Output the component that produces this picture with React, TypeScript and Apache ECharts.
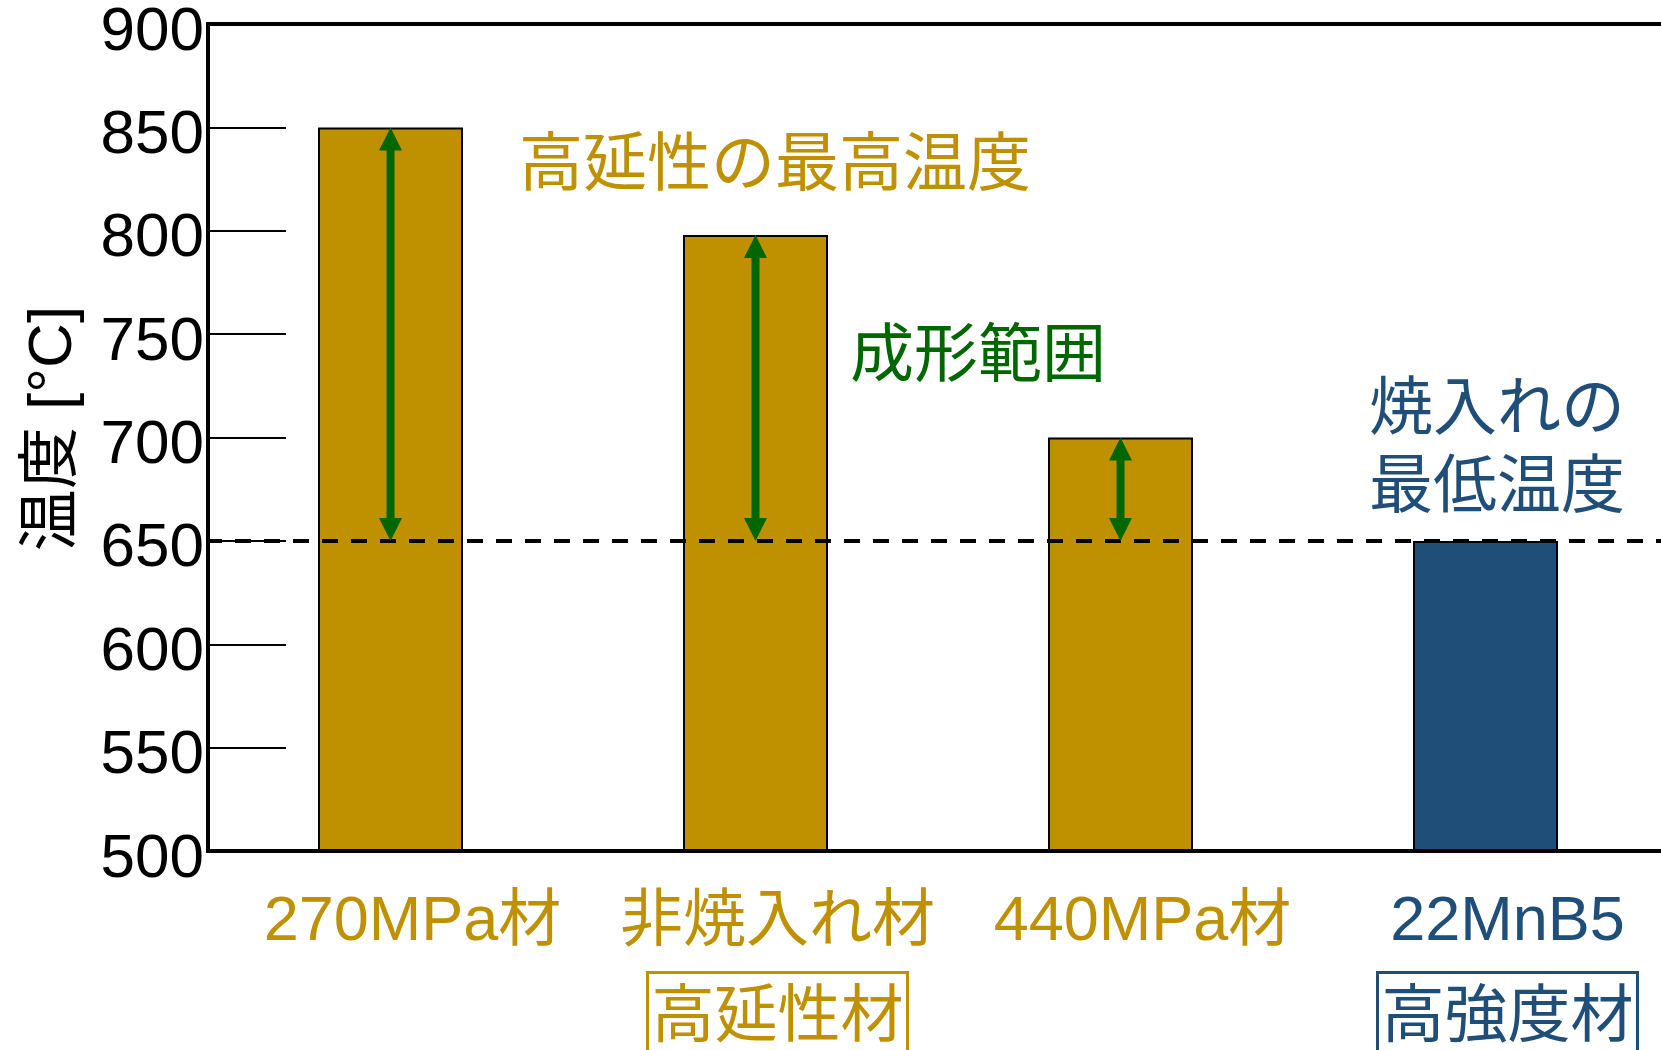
import React, { useEffect, useRef } from 'react';
import * as echarts from 'echarts';

// Steel grades and their group tags
const categories = ['270MPa材', '非焼入れ材', '440MPa材', '22MnB5'];
const groupLabels = ['', '高延性材', '', '高強度材'];

// Upper temperature of each grade [°C]
const maxTemps = [850, 798, 700, 650];

// Forming range arrows: lower and upper bounds [°C]
const rangeLow = [650, 650, 650];
const rangeHigh = [850, 798, 700];

// Minimum quenching temperature [°C]
const quenchMin = 650;

// Value axis range
const yMin = 500;
const yMax = 900;
const yStep = 50;

const GOLD = '#BF9000';
const BLUE = '#1F4E79';
const GREEN = '#006600';
const barColors = [GOLD, GOLD, GOLD, BLUE];

const FONT = "'Liberation Sans', 'Noto Sans CJK JP', sans-serif";

export default function App() {
  const ref = useRef<HTMLDivElement>(null);

  useEffect(() => {
    if (!ref.current) return;
    const chart = echarts.init(ref.current, undefined, { renderer: 'svg' });

    const option: any = {
      animation: false,
      backgroundColor: '#ffffff',
      grid: {
        left: 208,
        top: 24,
        bottom: 199,
        right: -7,
        outerBoundsMode: 'none',
        containLabel: false,
        show: true,
        borderColor: '#000',
        borderWidth: 4,
        backgroundColor: 'transparent',
      },
      xAxis: {
        type: 'category',
        data: categories,
        z: 10,
        axisLine: { show: true, lineStyle: { color: '#000', width: 4 } },
        axisTick: { show: false },
        axisLabel: {
          interval: 0,
          margin: 5,
          padding: [0, 0, 0, 44],
          formatter: (value: string, index: number) => {
            const key = barColors[index] === BLUE ? 'b' : 'g';
            let s = `{${key}|${value}}`;
            if (groupLabels[index]) s += `\n{${key}Box|${groupLabels[index]}}`;
            return s;
          },
          rich: {
            g: { color: GOLD, fontSize: 63, fontFamily: FONT, lineHeight: 124, align: 'center' },
            b: { color: BLUE, fontSize: 63, fontFamily: FONT, lineHeight: 124, align: 'center' },
            gBox: {
              color: GOLD, fontSize: 63, fontFamily: FONT, lineHeight: 72, align: 'center',
              borderColor: GOLD, borderWidth: 3, padding: [10, 4, 14, 4],
            },
            bBox: {
              color: BLUE, fontSize: 63, fontFamily: FONT, lineHeight: 72, align: 'center',
              borderColor: BLUE, borderWidth: 3, padding: [10, 4, 14, 4],
            },
          },
        },
      },
      yAxis: {
        type: 'value',
        min: yMin,
        max: yMax,
        interval: yStep,
        z: 10,
        name: '温度 [°C]',
        nameLocation: 'middle',
        nameRotate: 90,
        nameGap: 128,
        nameTextStyle: { color: '#000', fontSize: 62, fontFamily: FONT, padding: [0, 0, 0, 18] },
        axisLine: { show: true, lineStyle: { color: '#000', width: 4 } },
        axisTick: { show: true, inside: true, length: 78, lineStyle: { color: '#000', width: 2 } },
        splitLine: { show: false },
        axisLabel: {
          color: '#000',
          fontSize: 62,
          fontFamily: FONT,
          margin: 4,
          verticalAlign: 'top',
          lineHeight: 8,
        },
      },
      series: [
        {
          type: 'bar',
          data: maxTemps.map((v, i) => ({ value: v, itemStyle: { color: barColors[i] } })),
          barWidth: 145,
          itemStyle: { borderColor: '#000', borderWidth: 2 },
          silent: true,
          markLine: {
            silent: true,
            symbol: ['none', 'none'],
            label: { show: false },
            lineStyle: { color: '#000', width: 4, type: [16, 13], dashOffset: 2 },
            data: [{ yAxis: quenchMin }],
          },
        },
        {
          type: 'custom',
          z: 6,
          silent: true,
          data: rangeHigh.map((h, i) => [i, rangeLow[i], h]),
          encode: { x: 0, y: [1, 2] },
          renderItem: (params: any, api: any) => {
            const idx = api.value(0);
            const lo = api.coord([idx, api.value(1)]);
            const hi = api.coord([idx, api.value(2)]);
            const cx = hi[0];
            const top = hi[1];
            const bot = lo[1];
            const H = 23;
            const W = 23;
            const S = 8;
            return {
              type: 'group',
              children: [
                {
                  type: 'rect',
                  shape: { x: cx - S / 2, y: top + H - 1, width: S, height: bot - top - 2 * H + 2 },
                  style: { fill: GREEN },
                },
                {
                  type: 'polygon',
                  shape: { points: [[cx, top], [cx - W / 2, top + H], [cx + W / 2, top + H]] },
                  style: { fill: GREEN },
                },
                {
                  type: 'polygon',
                  shape: { points: [[cx, bot], [cx - W / 2, bot - H], [cx + W / 2, bot - H]] },
                  style: { fill: GREEN },
                },
              ],
            };
          },
        },
      ],
      graphic: [
        {
          type: 'text',
          x: 519,
          y: 163,
          silent: true,
          style: {
            text: '高延性の最高温度',
            fill: GOLD,
            fontSize: 64,
            fontFamily: FONT,
            align: 'left',
            verticalAlign: 'middle',
          },
        },
        {
          type: 'text',
          x: 850,
          y: 354,
          silent: true,
          style: {
            text: '成形範囲',
            fill: GREEN,
            fontSize: 64,
            fontFamily: FONT,
            align: 'left',
            verticalAlign: 'middle',
          },
        },
        {
          type: 'text',
          x: 1497,
          y: 446,
          silent: true,
          style: {
            text: '焼入れの\n最低温度',
            fill: BLUE,
            fontSize: 64,
            fontFamily: FONT,
            lineHeight: 78,
            align: 'center',
            verticalAlign: 'middle',
          },
        },
      ],
    };

    chart.setOption(option);
    return () => chart.dispose();
  }, []);

  return (
    <div
      ref={ref}
      style={{ position: 'fixed', left: 0, top: 0, width: 1661, height: 1050, background: '#fff' }}
    />
  );
}
